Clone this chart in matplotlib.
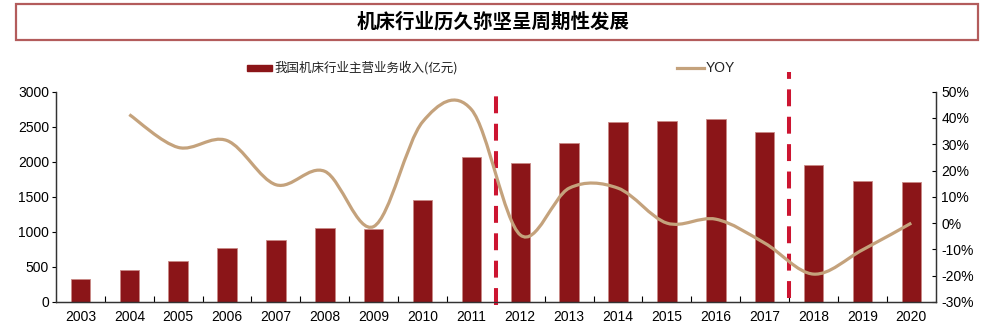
import numpy as np
import matplotlib.pyplot as plt
from matplotlib.path import Path
from matplotlib.patches import PathPatch, Rectangle
from matplotlib.lines import Line2D

plt.rcParams["font.family"] = ["Liberation Sans", "Noto Sans CJK SC", "DejaVu Sans"]

years = [str(y) for y in range(2003, 2021)]
revenue = [322, 455, 585, 767, 881, 1052, 1038, 1452, 2066,
           1985, 2266, 2561, 2575, 2609, 2423, 1952, 1723, 1718]
yoy = [None, 0.413, 0.288, 0.314, 0.146, 0.197, -0.013, 0.385, 0.432,
       -0.045, 0.133, 0.133, 0.000, 0.015, -0.076, -0.194, -0.102, 0.000]
cycle_breaks = [8.5, 14.5]

bar_color = "#8B1518"
line_color = "#C4A27C"
dash_color = "#CC1531"


def smooth_path(xs, ys):
    # Excel-like smoothed line: Catmull-Rom segments as cubic Beziers
    pts = np.column_stack([xs, ys])
    verts = [pts[0]]
    codes = [Path.MOVETO]
    n = len(pts)
    for i in range(n - 1):
        p0 = pts[i - 1] if i > 0 else pts[i]
        p1, p2 = pts[i], pts[i + 1]
        p3 = pts[i + 2] if i + 2 < n else pts[i + 1]
        verts += [p1 + (p2 - p0) / 6, p2 - (p3 - p1) / 6, p2]
        codes += [Path.CURVE4] * 3
    return Path(verts, codes)


fig = plt.figure(figsize=(9.86, 3.24), dpi=100)
ax = fig.add_axes([0.0568, 0.068, 0.8922, 0.649])
ax2 = ax.twinx()

x = np.arange(len(years))
ax.bar(x, revenue, 0.4, color=bar_color, edgecolor="#C98A86", linewidth=0.6, zorder=2)
ax.set_xlim(-0.5, len(years) - 0.5)
ax.set_ylim(0, 3000)
ax.set_yticks(range(0, 3001, 500))
ax.set_xticks(x)
ax.set_xticklabels(years)
ax.set_xticks(np.arange(0.5, len(years) - 1, 1), minor=True)
ax.tick_params(axis="x", which="major", length=0, pad=6, labelsize=10)
ax.tick_params(axis="x", which="minor", direction="in", length=4, width=0.8)
ax.tick_params(axis="y", direction="out", length=3, labelsize=10, pad=2)

yx = [i for i, v in enumerate(yoy) if v is not None]
yv = [v for v in yoy if v is not None]
ax2.add_patch(PathPatch(smooth_path(yx, yv), facecolor="none",
                        edgecolor=line_color, linewidth=2.3, zorder=3))
ax2.set_ylim(-0.3, 0.5)
ax2.set_yticks(np.arange(-0.3, 0.51, 0.1))
ax2.set_yticklabels([f"{round(v * 100)}%" for v in np.arange(-0.3, 0.51, 0.1)])
ax2.tick_params(axis="y", direction="in", length=3, labelsize=10, pad=4)

for a in (ax, ax2):
    a.spines["top"].set_visible(False)
    for s in ("left", "right", "bottom"):
        a.spines[s].set_color("#333333")
        a.spines[s].set_linewidth(0.9)

ax.axvline(cycle_breaks[0], ymin=-0.014, ymax=1.018, color=dash_color, linewidth=2.9,
           dashes=(4.2, 2.6), clip_on=False, zorder=4)
ax.axvline(cycle_breaks[1], ymin=0.02, ymax=1.094, color=dash_color, linewidth=2.9,
           dashes=(4.2, 2.6), clip_on=False, zorder=4)

# legend
fig.patches.append(Rectangle((246.7 / 986, 1 - 70.5 / 324), 25 / 986, 5.5 / 324,
                             transform=fig.transFigure, color=bar_color))
fig.text(274 / 986, 1 - 67.5 / 324, "我国机床行业主营业务收入(亿元)", fontsize=9,
         family=["Noto Sans CJK SC", "DejaVu Sans"], va="center", color="#222222")
fig.lines.append(Line2D([677 / 986, 704 / 986], [1 - 67.5 / 324] * 2, transform=fig.transFigure,
                        color=line_color, linewidth=2.3))
fig.text(706 / 986, 1 - 67.5 / 324, "YOY", fontsize=10, va="center", color="#222222")

# title box
fig.patches.append(Rectangle((16 / 986, 1 - 40 / 324), 962 / 986, 36 / 324,
                             transform=fig.transFigure, facecolor="none",
                             edgecolor="#B35C5C", linewidth=1.6))
fig.text(0.5, 1 - 22 / 324, "机床行业历久弥坚呈周期性发展", fontsize=14, fontweight="bold",
         family=["Noto Sans CJK SC", "DejaVu Sans"], ha="center", va="center")

fig.savefig("out.png", dpi=100)
